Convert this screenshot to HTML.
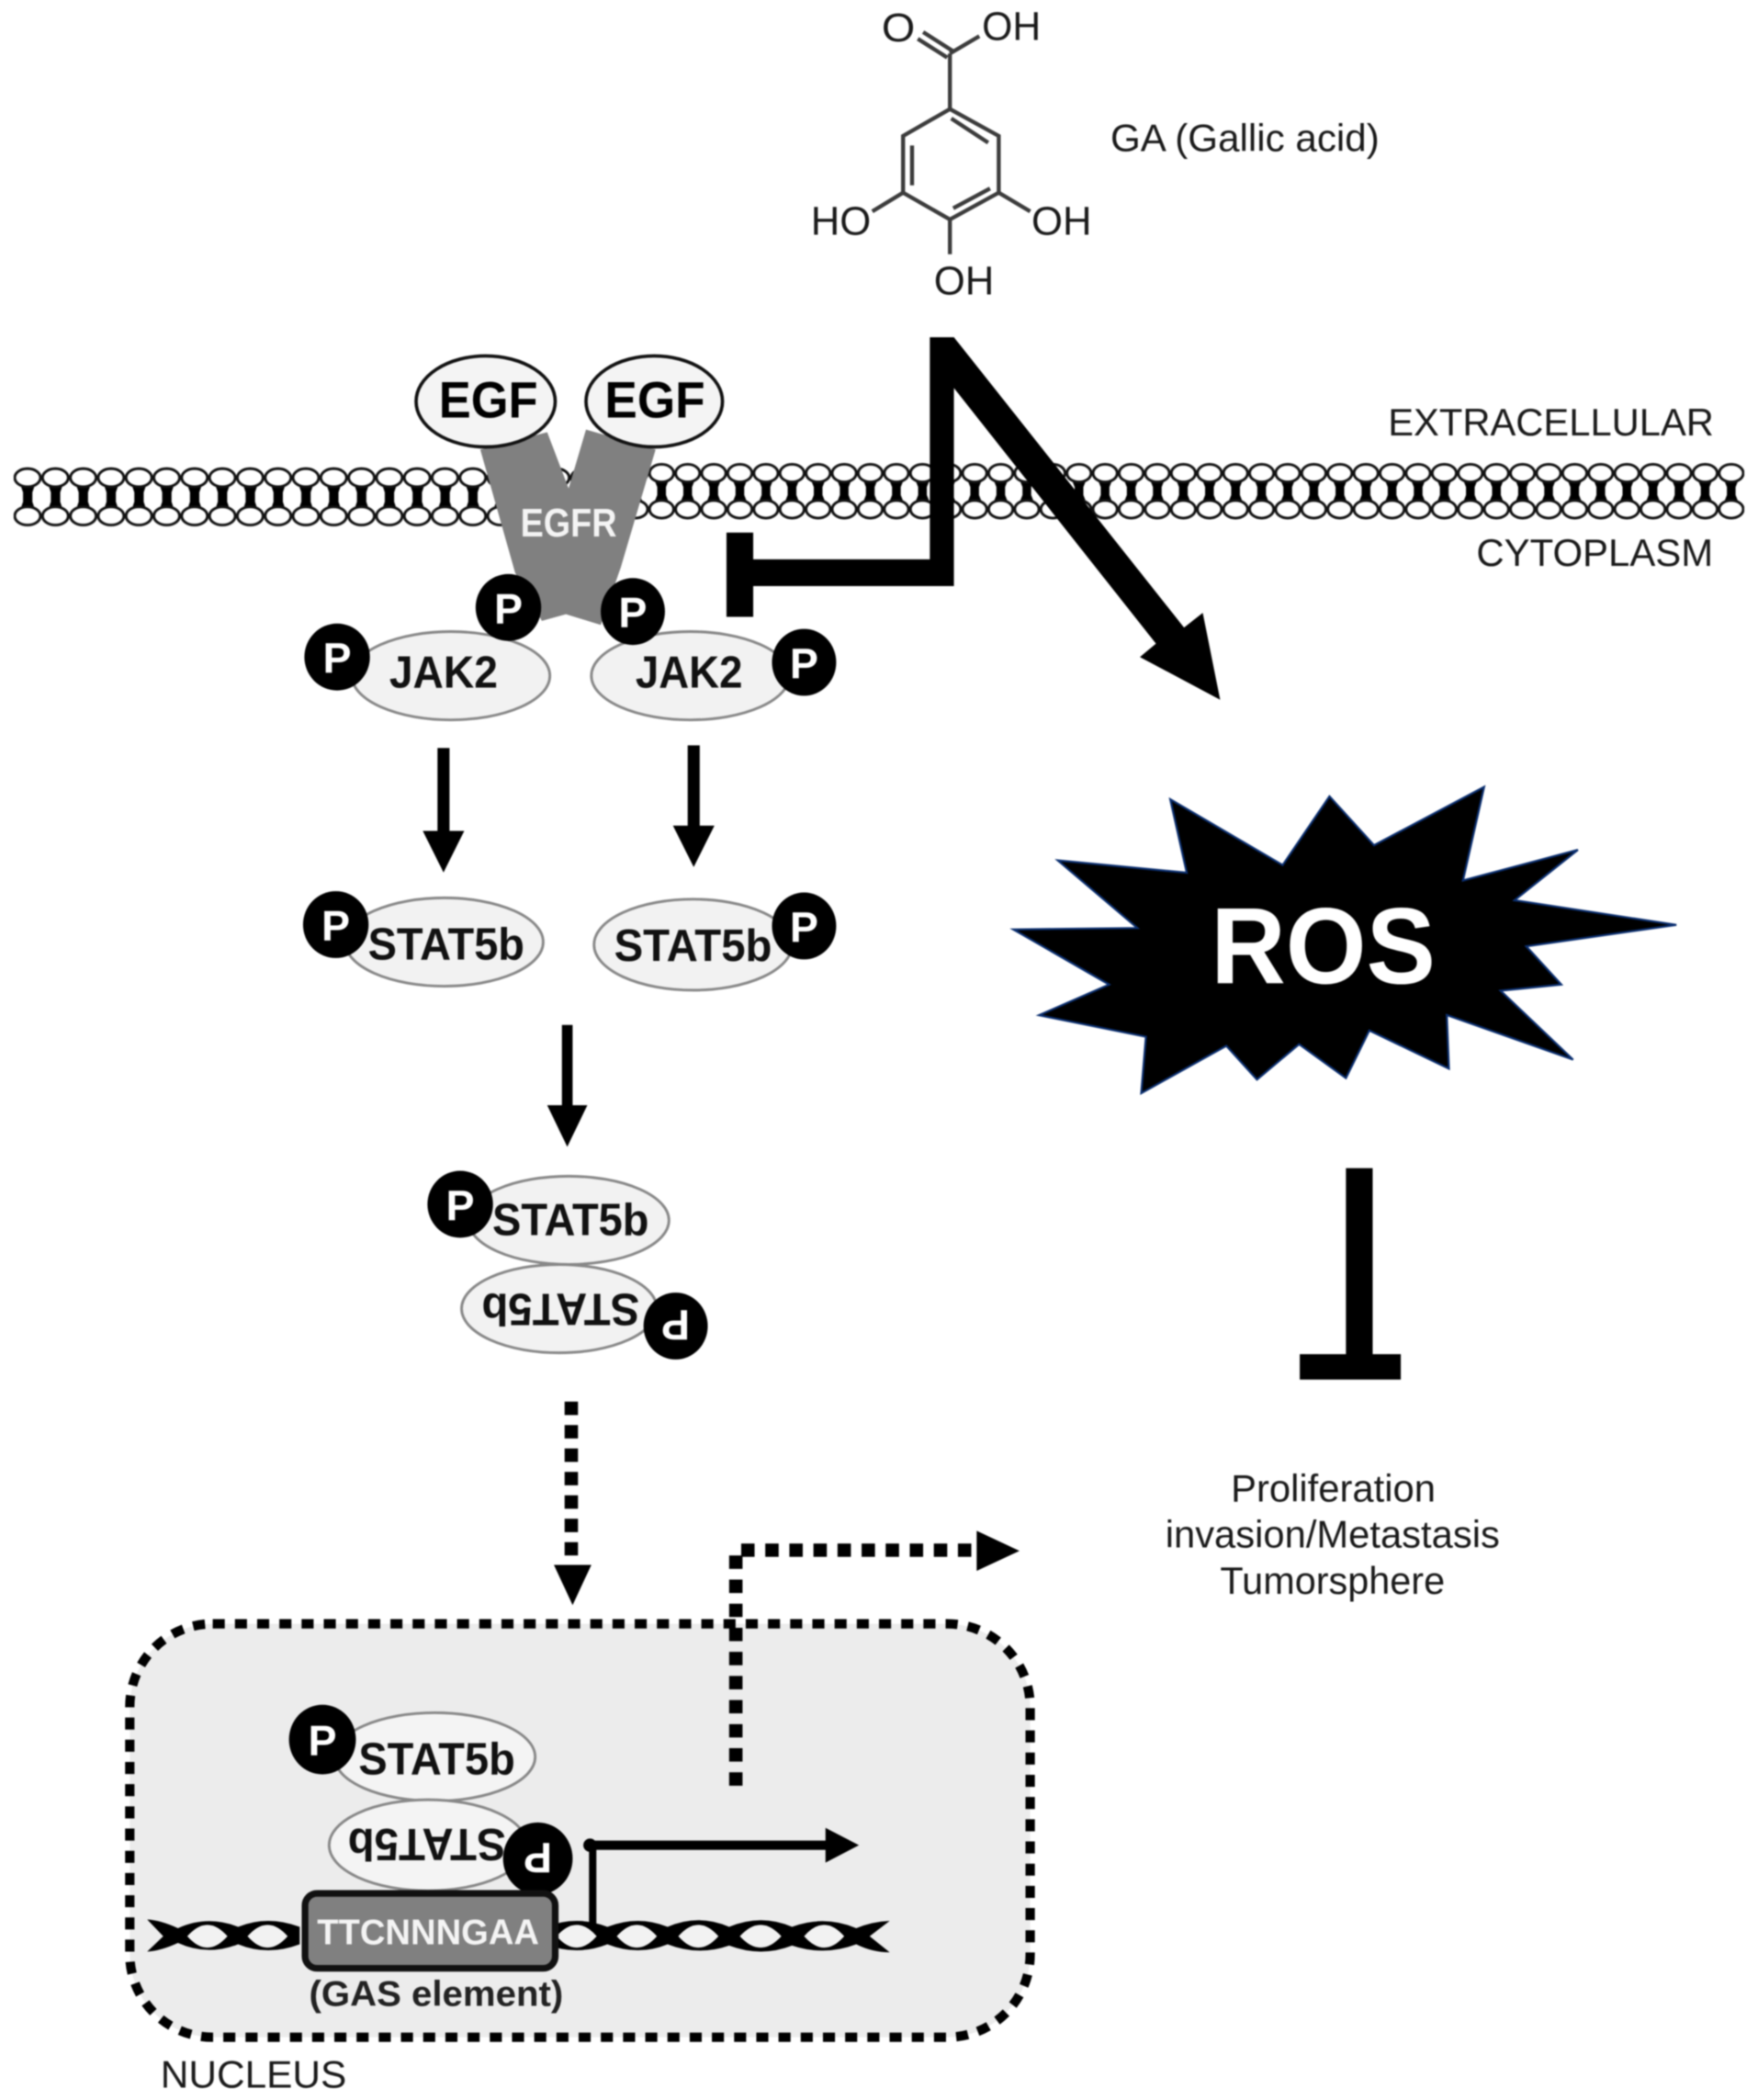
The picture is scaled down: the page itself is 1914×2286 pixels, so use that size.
<!DOCTYPE html>
<html><head><meta charset="utf-8"><style>
html,body{margin:0;padding:0;background:#fff}
svg{display:block;filter:blur(.8px)}
text{font-family:"Liberation Sans",sans-serif}
.l{font-size:28.5px;fill:#1a1a1a}
.m{font-size:30px;fill:#1a1a1a}
.s{font-size:34px;font-weight:bold;fill:#111}
.p{font-size:32px;font-weight:bold;fill:#fff;text-anchor:middle}
.e{fill:#f2f2f2;stroke:#888;stroke-width:2}
</style></head><body>
<svg xmlns="http://www.w3.org/2000/svg" width="1914" height="2286" viewBox="0 0 1314 1569.4">
<defs>
<pattern id="mL" patternUnits="userSpaceOnUse" x="10.2" y="345" width="20.8" height="54">
<path d="M5 17L7 23V30L5 36H16L14 30V23L16 17Z" fill="#000"/>
<ellipse cx="10.4" cy="12" rx="9.6" ry="6.8" fill="#fff" stroke="#111" stroke-width="2"/>
<ellipse cx="10.4" cy="40.6" rx="9.6" ry="6.8" fill="#fff" stroke="#111" stroke-width="2"/>
</pattern>
<pattern id="mR" patternUnits="userSpaceOnUse" x="465.25" y="343" width="19.5" height="50">
<path d="M4.5 16L6.5 21V27L4.5 32H15L13 27V21L15 16Z" fill="#000"/>
<ellipse cx="9.75" cy="10.6" rx="9" ry="6.6" fill="#fff" stroke="#111" stroke-width="2"/>
<ellipse cx="9.75" cy="37.6" rx="9" ry="6.6" fill="#fff" stroke="#111" stroke-width="2"/>
</pattern>
</defs>
<rect width="1314" height="1570" fill="#fff"/>

<!-- Molecule -->
<g fill="none" stroke="#3c3c3c" stroke-width="3">
<path d="M710 81.5L746.5 101.6V144L710 164L675 144V101.6Z"/>
<path d="M711 88.5L738.6 106.6M681.7 108.7V138.5M712.5 155.6L740 140.9"/>
<path d="M710 81.5V40M710 40L732 27M708 43L686 29M712 38L690 24"/>
<path d="M675 144L652 158M746.5 144L770 158M710 164V190"/>
</g>
<g>
<text class="m" x="659" y="31" textLength="25" lengthAdjust="spacingAndGlyphs">O</text>
<text class="m" x="734" y="30" textLength="44" lengthAdjust="spacingAndGlyphs">OH</text>
<text class="m" x="606" y="175.5" textLength="45" lengthAdjust="spacingAndGlyphs">HO</text>
<text class="m" x="771" y="175.5" textLength="45" lengthAdjust="spacingAndGlyphs">OH</text>
<text class="m" x="698" y="220" textLength="45" lengthAdjust="spacingAndGlyphs">OH</text>
<text class="l" x="830" y="113" textLength="201" lengthAdjust="spacingAndGlyphs">GA (Gallic acid)</text>
<text class="l" x="1037.5" y="325.5" textLength="243.5" lengthAdjust="spacingAndGlyphs">EXTRACELLULAR</text>
<text class="l" x="1103.5" y="423" textLength="177" lengthAdjust="spacingAndGlyphs">CYTOPLASM</text>
<text class="l" x="920" y="1122" textLength="153" lengthAdjust="spacingAndGlyphs">Proliferation</text>
<text class="l" x="871" y="1156.5" textLength="250" lengthAdjust="spacingAndGlyphs">invasion/Metastasis</text>
<text class="l" x="912" y="1191" textLength="168" lengthAdjust="spacingAndGlyphs">Tumorsphere</text>
<text class="l" x="120" y="1560" textLength="139" lengthAdjust="spacingAndGlyphs">NUCLEUS</text>
</g>

<!-- Membrane -->
<rect x="10.2" y="345" width="436.8" height="54" fill="url(#mL)"/>
<rect x="465.25" y="343" width="838.5" height="50" fill="url(#mR)"/>

<!-- EGFR -->
<polygon points="359,336 409,323 425,365 438,321 490,336 464,424 449,467 423,459 405,464 385,428" fill="#808080"/>
<text x="389" y="401" font-size="30" font-weight="bold" fill="#f4f4f4" textLength="72" lengthAdjust="spacingAndGlyphs">EGFR</text>

<!-- EGF -->
<ellipse cx="363" cy="300" rx="52" ry="34" fill="#f4f4f4" stroke="#111" stroke-width="2.5"/>
<ellipse cx="489" cy="300" rx="51" ry="34" fill="#f4f4f4" stroke="#111" stroke-width="2.5"/>
<text x="328" y="312" font-size="38" font-weight="bold" fill="#000" textLength="74" lengthAdjust="spacingAndGlyphs">EGF</text>
<text x="452" y="312" font-size="38" font-weight="bold" fill="#000" textLength="75" lengthAdjust="spacingAndGlyphs">EGF</text>

<!-- Black arrow + inhibition -->
<path d="M695 252H713L885 469L899 458L912 523L852 491L864 481L713 290V438H563V461H543V398H563V418H695Z" fill="#000"/>

<!-- JAK2 -->
<ellipse class="e" cx="337" cy="505" rx="74" ry="33"/>
<ellipse class="e" cx="516" cy="505" rx="74" ry="33"/>
<text class="s" x="291" y="514" textLength="81" lengthAdjust="spacingAndGlyphs">JAK2</text>
<text class="s" x="475" y="514" textLength="80" lengthAdjust="spacingAndGlyphs">JAK2</text>
<g fill="#000"><ellipse cx="380" cy="454" rx="24.5" ry="25"/><ellipse cx="473" cy="457" rx="24" ry="25"/><ellipse cx="252" cy="491" rx="24.5" ry="25"/><ellipse cx="601" cy="495" rx="24" ry="25"/></g>
<text class="p" x="380" y="466">P</text><text class="p" x="473" y="469">P</text><text class="p" x="252" y="503">P</text><text class="p" x="601" y="507">P</text>

<!-- arrows -->
<g fill="#000">
<path d="M327 559H336V621H347L331.5 652L316 621H327Z"/>
<path d="M514 557H523V617H534L518.5 648L503 617H514Z"/>
<path d="M420 766H428V826H439L424 857L409 826H420Z"/>
<path d="M730 1144V1174L762 1159Z"/>
</g>

<!-- STAT5b row -->
<ellipse class="e" cx="332" cy="704" rx="74" ry="33"/>
<ellipse class="e" cx="518" cy="706" rx="74" ry="34"/>
<text class="s" x="275" y="717" textLength="117" lengthAdjust="spacingAndGlyphs">STAT5b</text>
<text class="s" x="459" y="718" textLength="118" lengthAdjust="spacingAndGlyphs">STAT5b</text>
<ellipse cx="251" cy="691" rx="24.5" ry="25"/><ellipse cx="601" cy="692" rx="24" ry="25"/>
<text class="p" x="251" y="703">P</text><text class="p" x="601" y="704">P</text>

<!-- dimer cytoplasm -->
<ellipse class="e" cx="425" cy="912" rx="75" ry="33"/>
<ellipse class="e" cx="418" cy="978" rx="73" ry="33"/>
<text class="s" x="368" y="923" textLength="117" lengthAdjust="spacingAndGlyphs">STAT5b</text>
<text class="s" transform="rotate(180 419 979)" x="360" y="991" textLength="118" lengthAdjust="spacingAndGlyphs">STAT5b</text>
<ellipse cx="344" cy="900" rx="24.5" ry="25"/><ellipse cx="505" cy="991" rx="24" ry="25"/>
<text class="p" x="344" y="912">P</text>
<text class="p" transform="rotate(180 505 991)" x="505" y="1003">P</text>

<g transform="translate(0 1.5)">
<!-- dotted arrow down -->
<path d="M427 1046V1170" stroke="#000" stroke-width="10" stroke-dasharray="10 7.5" fill="none"/>
<path d="M414 1168H442L428 1198Z"/>

<!-- Nucleus -->
<rect x="97" y="1212" width="673" height="309" rx="62" ry="62" fill="#ececec" stroke="#000" stroke-width="7" stroke-dasharray="9 7.6"/>

<!-- dotted L -->
<path d="M550 1333V1157H730" stroke="#000" stroke-width="10" stroke-dasharray="10 8" fill="none"/>
</g>

<!-- DNA -->
<path d="M110 1434.5Q120 1435 133 1441Q155 1431 178 1440Q200 1431 224 1440V1453Q200 1462 178 1453Q155 1462 133 1452Q120 1458 110 1458.5L122 1447Z" fill="#000"/>
<path d="M408 1440Q431 1431 454 1440Q477 1431 499 1440Q522 1430 545 1440Q569 1430 592 1440Q616 1431 640 1441Q652 1436 665 1435.5L650 1447L665 1459Q652 1459 640 1453Q616 1462 592 1454Q569 1463 545 1454Q522 1462 499 1453Q477 1462 454 1453Q431 1462 408 1453Z" fill="#000"/>
<g fill="#f2f2f2">
<path d="M140 1447Q155 1430 170 1447Q155 1464 140 1447Z"/>
<path d="M185 1447Q200 1430 215 1447Q200 1464 185 1447Z"/>
<path d="M416 1447Q431 1430 446 1447Q431 1464 416 1447Z"/>
<path d="M461 1447Q476 1430 491 1447Q476 1464 461 1447Z"/>
<path d="M507 1447Q522 1430 537 1447Q522 1464 507 1447Z"/>
<path d="M553 1447Q568.5 1430 584 1447Q568.5 1464 553 1447Z"/>
<path d="M601 1447Q616 1430 631 1447Q616 1464 601 1447Z"/>
</g>

<!-- Gene arrow -->
<path d="M443 1440V1379" stroke="#000" stroke-width="5.5" fill="none"/>
<path d="M441 1379H622" stroke="#000" stroke-width="7" fill="none"/>
<circle cx="441" cy="1379" r="5"/>
<path d="M617 1366V1392L642 1379Z"/>

<!-- nucleus dimer -->
<ellipse cx="325" cy="1313" rx="75" ry="33" fill="#f4f4f4" stroke="#888" stroke-width="2"/>
<ellipse cx="320" cy="1379" rx="74" ry="34" fill="#f4f4f4" stroke="#888" stroke-width="2"/>
<text class="s" x="268" y="1326" textLength="117" lengthAdjust="spacingAndGlyphs">STAT5b</text>
<text class="s" transform="rotate(180 319 1379)" x="260" y="1391" textLength="118" lengthAdjust="spacingAndGlyphs">STAT5b</text>
<ellipse cx="241" cy="1300" rx="25" ry="26"/><ellipse cx="402" cy="1389" rx="26" ry="27"/>
<text class="p" x="241" y="1312">P</text>
<text class="p" transform="rotate(180 402 1389)" x="402" y="1401">P</text>

<!-- GAS -->
<rect x="228" y="1415" width="187" height="56" rx="9" fill="#808080" stroke="#111" stroke-width="5"/>
<text x="237" y="1453" font-size="27" font-weight="bold" fill="#f4f4f4" textLength="166" lengthAdjust="spacingAndGlyphs">TTCNNNGAA</text>
<text x="231" y="1499" font-size="27" font-weight="bold" fill="#222" textLength="190" lengthAdjust="spacingAndGlyphs">(GAS element)</text>

<!-- ROS -->
<polygon fill="#000" stroke="#0b2f70" stroke-width="1.5" points="874.7,597.3 958.7,646.5 993.7,595.1 1027,631.7 1109.3,588.1 1093.5,658 1179.4,635.1 1132,672.8 1253,691.2 1140.8,707.2 1167,735.8 1121.6,740.4 1175.8,791.9 1081.4,758.6 1083,798.7 1023.5,770.1 1006,805.7 971,780.4 939.5,806.8 916.6,781.6 853,817 856.5,774.8 776.6,758.7 829,735.8 757.4,694.6 850.1,693.5 790.6,643 887,652.2"/>
<text x="905" y="735" font-size="81" font-weight="bold" fill="#fff" textLength="168" lengthAdjust="spacingAndGlyphs">ROS</text>

<!-- ROS inhibition -->
<path d="M1006 873H1026V1012H1047V1031H971.5V1012H1006Z" fill="#000"/>
</svg>
</body></html>
